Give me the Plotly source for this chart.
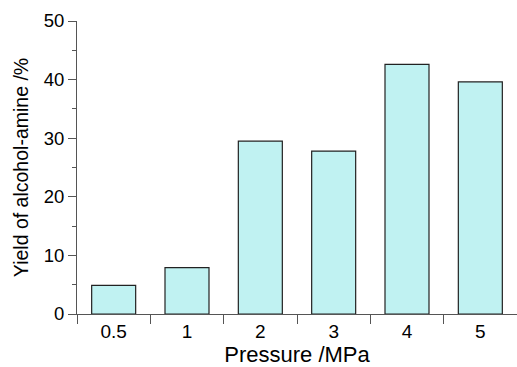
import plotly.graph_objects as go

pressure = ["0.5", "1", "2", "3", "4", "5"]
yield_pct = [4.9, 7.9, 29.5, 27.8, 42.6, 39.6]
y_ticks = [0, 10, 20, 30, 40, 50]

fig = go.Figure()
fig.add_trace(go.Bar(
    x=pressure, y=yield_pct, width=0.6,
    marker=dict(color="#C0F2F2", line=dict(color="#222222", width=1.2)),
))

font = "Liberation Sans, Arial, Helvetica, sans-serif"
fig.update_layout(
    width=517, height=367,
    margin=dict(l=77, r=0, t=21, b=53),
    plot_bgcolor="white", paper_bgcolor="white",
    showlegend=False,
    font=dict(family=font, color="black"),
    bargap=0.4,
)
fig.update_xaxes(
    type="category", tickson="boundaries", ticks="outside", ticklen=9,
    tickwidth=1, tickcolor="#555555",
    showline=True, linecolor="#555555", linewidth=1,
    showgrid=False, tickfont=dict(size=19),
    title=dict(text="Pressure /MPa", font=dict(size=22), standoff=3),
)
fig.update_yaxes(
    range=[0, 50], tickvals=y_ticks, ticks="outside", ticklen=8,
    tickwidth=1, tickcolor="#555555",
    minor=dict(dtick=5, ticks="outside", ticklen=4, tickcolor="#555555", showgrid=False),
    showline=True, linecolor="#555555", linewidth=1,
    showgrid=False, zeroline=False, tickfont=dict(size=18.5),
    title=dict(text="Yield of alcohol-amine /%", font=dict(size=19.5), standoff=9),
)
fig.write_html(
    "out.html",
    config={"displayModeBar": False},
    post_script="document.body.style.margin='0';document.body.style.overflow='hidden';",
)
